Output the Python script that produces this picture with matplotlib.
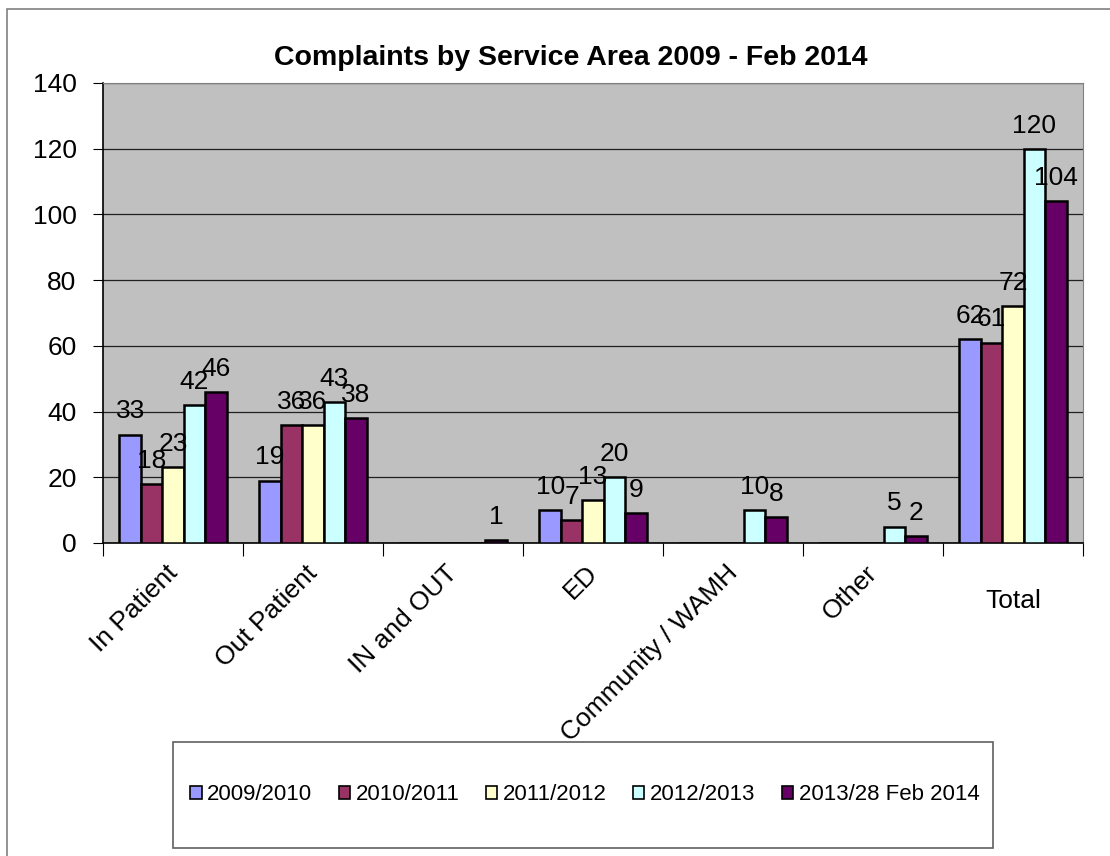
import numpy as np
import matplotlib.pyplot as plt
from matplotlib.patches import Rectangle, Patch

plt.rcParams['font.family'] = ['Liberation Sans', 'DejaVu Sans']

# data
categories = ['In Patient', 'Out Patient', 'IN and OUT', 'ED',
              'Community / WAMH', 'Other', 'Total']
series = ['2009/2010', '2010/2011', '2011/2012', '2012/2013', '2013/28 Feb 2014']
values = [
    [33, 19, 0, 10, 0, 0, 62],
    [18, 36, 0, 7, 0, 0, 61],
    [23, 36, 0, 13, 0, 0, 72],
    [42, 43, 0, 20, 10, 5, 120],
    [46, 38, 1, 9, 8, 2, 104],
]
colors = ['#9999FF', '#993366', '#FFFFCC', '#CCFFFF', '#660066']

W, H = 1110, 856
fig = plt.figure(figsize=(W / 100, H / 100), dpi=100)
ax = fig.add_axes([103 / W, 1 - 543 / H, 980 / W, 460 / H])
ax.set_facecolor('#C0C0C0')

x = np.arange(len(categories))
w = 0.153
for i, (name, vals) in enumerate(zip(series, values)):
    pos = x + (i - 2) * w
    bars = ax.bar(pos, vals, w, color=colors[i], edgecolor='black',
                  linewidth=1.8, label=name, zorder=3)
    for b, v in zip(bars, vals):
        if v:
            ax.annotate(str(v), (b.get_x() + b.get_width() / 2, v),
                        xytext=(0, 8), textcoords='offset points',
                        ha='center', va='bottom', fontsize=19, zorder=4)

ax.set_ylim(0, 140)
ax.set_yticks(range(0, 141, 20))
ax.set_xlim(-0.5, len(categories) - 0.5)
ax.yaxis.grid(True, color='#202020', linewidth=0.9, zorder=0)
ax.tick_params(axis='y', labelsize=19, direction='out', length=7, pad=12)

ax.set_xticks(np.arange(-0.5, len(categories), 1))
ax.set_xticklabels([])
ax.tick_params(axis='x', direction='out', length=9)
for i, c in enumerate(categories):
    if c == 'Total':
        ax.annotate(c, (i, 0), xycoords=('data', 'axes fraction'),
                    xytext=(0, -33), textcoords='offset points',
                    ha='center', va='top', fontsize=19)
    else:
        ax.annotate(c, (i, 0), xycoords=('data', 'axes fraction'),
                    xytext=(-5.5, -13), textcoords='offset points',
                    ha='right', va='top', rotation=45,
                    rotation_mode='anchor', fontsize=19)

ax.spines['top'].set_color('#808080')
ax.spines['right'].set_color('#808080')
ax.spines['left'].set_linewidth(1.2)
ax.spines['bottom'].set_linewidth(1.2)

fig.text(571 / W, 1 - 65 / H, 'Complaints by Service Area 2009 - Feb 2014',
         ha='center', va='baseline', fontsize=20.5, fontweight='bold')

# outer chart frame
fig.patches.append(Rectangle((7 / W, -0.05), 1.2, 1 - 9 / H + 0.05,
                             transform=fig.transFigure, fill=False,
                             edgecolor='#808080', linewidth=1.2))
# legend box (covers the long rotated label like the original)
fig.patches.append(Rectangle((173 / W, 1 - 848 / H), 820 / W, 106 / H,
                             transform=fig.transFigure, facecolor='white',
                             edgecolor='#606060', linewidth=1.2, zorder=3))
handles = [Patch(facecolor=c, edgecolor='black', linewidth=1.2) for c in colors]
leg = fig.legend(handles, series, loc='center', bbox_to_anchor=(585 / W, 1 - 795 / H),
                 ncol=5, frameon=False, fontsize=16, handlelength=0.5,
                 handleheight=0.5, handletextpad=0.25, columnspacing=1.2)
leg.set_zorder(5)

fig.savefig('out.png', dpi=100)
